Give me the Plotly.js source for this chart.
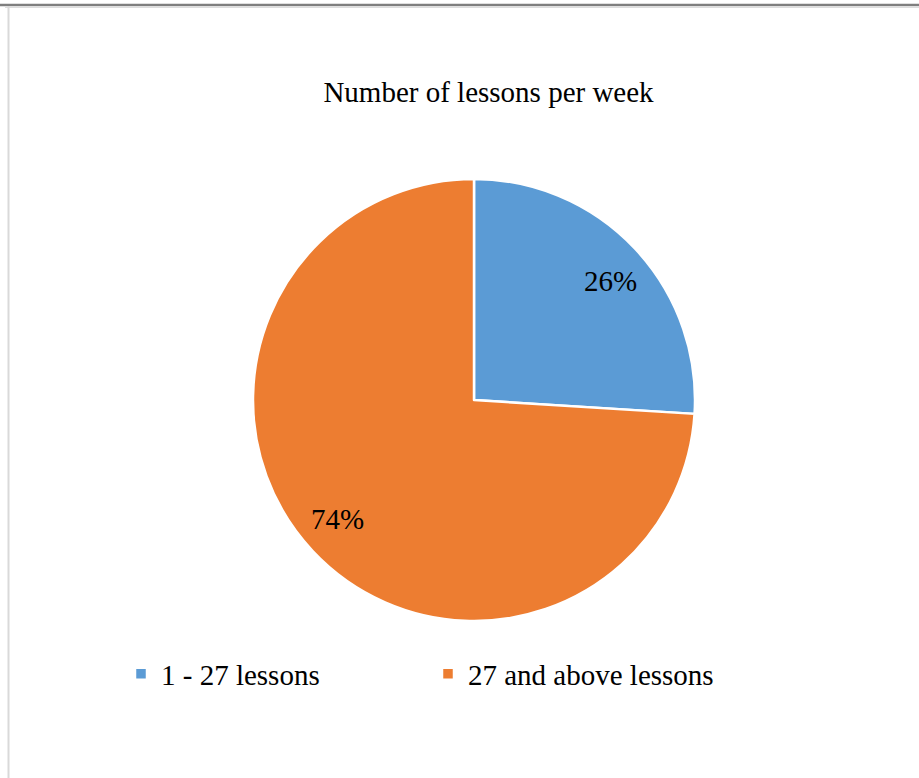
<!DOCTYPE html>
<html><head><meta charset="utf-8">
<script src="https://cdn.plot.ly/plotly-3.0.1.min.js"></script>
<style>html,body{margin:0;padding:0;background:#fff;}#chart{width:919px;height:778px;}</style>
</head><body><div id="chart"></div>
<script>
const categories = ["1 - 27 lessons", "27 and above lessons"];
const values = [26, 74];
const colors = ["#5B9BD5", "#ED7D31"];
const chartTitle = "Number of lessons per week";

const W = 919, H = 778;
const cx = 474, cy = 400, R = 221;
const serif = "'Liberation Serif', 'Times New Roman', serif";

const total = values.reduce((a, b) => a + b, 0);
let acc = 0;
const annotations = values.map((v, i) => {
  const mid = ((acc + v / 2) / total * 360 + 2) * Math.PI / 180;
  acc += v;
  const r = 0.82 * R;
  const px = cx + r * Math.sin(mid);
  const py = cy - r * Math.cos(mid);
  return {
    x: px / W, y: 1 - py / H, xref: "paper", yref: "paper",
    xanchor: "center", yanchor: "middle",
    text: Math.round(v / total * 100) + "%", showarrow: false,
    font: {family: serif, size: 29, color: "#000"}
  };
});

const shapes = [
  {type: "line", xref: "paper", yref: "paper", x0: 0, x1: 1, y0: 1 - 5 / H, y1: 1 - 5 / H, line: {color: "#7f7f7f", width: 2.5}},
  {type: "line", xref: "paper", yref: "paper", x0: 5 / W, x1: 1, y0: 1 - 7.5 / H, y1: 1 - 7.5 / H, line: {color: "#dddddd", width: 1}},
  {type: "line", xref: "paper", yref: "paper", x0: 8.5 / W, x1: 8.5 / W, y0: 0, y1: 1 - 6 / H, line: {color: "#d9d9d9", width: 2}}
];

const trace = {
  type: "pie",
  labels: categories,
  values: values,
  marker: {colors: colors, line: {color: "#ffffff", width: 2.5}},
  sort: false,
  direction: "clockwise",
  rotation: 0,
  textinfo: "none",
  hoverinfo: "label+percent",
  domain: {x: [(cx - R) / W, (cx + R) / W], y: [1 - (cy + R) / H, 1 - (cy - R) / H]}
};

const layout = {
  width: W, height: H,
  margin: {l: 0, r: 0, t: 0, b: 0},
  paper_bgcolor: "#ffffff",
  title: {text: chartTitle, font: {family: serif, size: 29, color: "#000"}, x: 488.5 / W, xanchor: "center", y: 1 - 92 / H, yanchor: "middle"},
  showlegend: true,
  legend: {
    orientation: "h", x: 121 / W, xanchor: "left", y: 1 - 674 / H, yanchor: "middle",
    font: {family: serif, size: 29, color: "#000"},
    entrywidth: 262, itemwidth: 30, traceorder: "normal"
  },
  annotations: annotations,
  shapes: shapes
};

Plotly.newPlot("chart", [trace], layout, {displayModeBar: false, staticPlot: true});
</script></body></html>
